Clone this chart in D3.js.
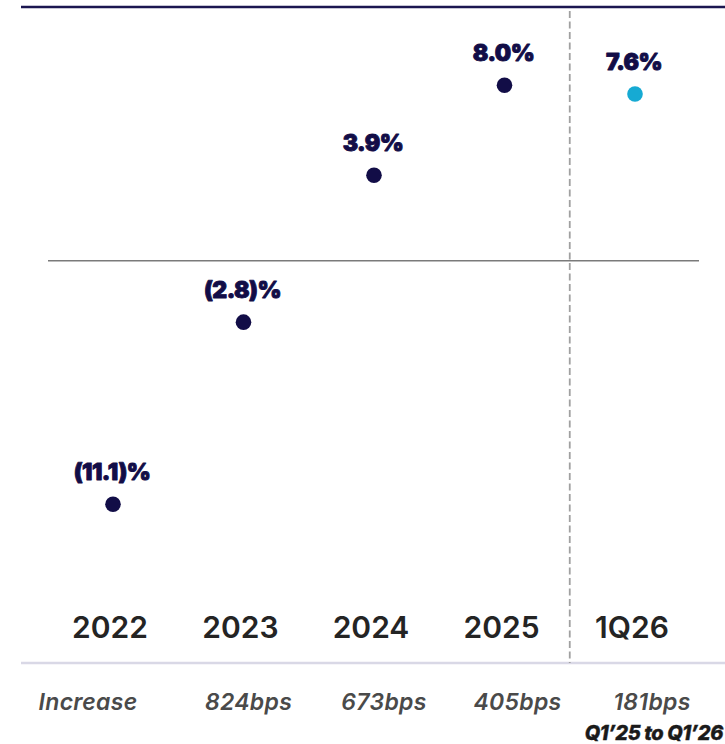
<!DOCTYPE html>
<html>
<head>
<meta charset="utf-8">
<script src="https://cdn.jsdelivr.net/npm/d3@7"></script>
<style>
  html, body { margin: 0; padding: 0; background: #ffffff; }
  svg { display: block; }
</style>
</head>
<body>
<svg id="chart" width="725" height="744"></svg>
<script>
// Year-over-year change by period
const categories = ["2022", "2023", "2024", "2025", "1Q26"];
const changes = [-11.1, -2.8, 3.9, 8.0, 7.6];
const valueLabels = ["(11.1)%", "(2.8)%", "3.9%", "8.0%", "7.6%"];
const spreadLabels = ["Increase", "824bps", "673bps", "405bps", "181bps"];
const spreadNote = "Q1\u201925 to Q1\u201926";

const NAVY = "#120d47";
const CYAN = "#16aad3";
const FONT = "Inter, 'Open Sans', 'DejaVu Sans', sans-serif";

const svg = d3.select("#chart");

const x = d3.scalePoint()
  .domain(categories)
  .range([113, 635]);

const y = d3.scaleLinear()
  .domain(d3.extent(changes))
  .range([504.2, 85.3]);

// Top rule
svg.append("line")
  .attr("x1", 21).attr("x2", 725)
  .attr("y1", 7).attr("y2", 7)
  .attr("stroke", "#1b1650").attr("stroke-width", 2.6);

// Zero line
svg.append("line")
  .attr("x1", 48).attr("x2", 699)
  .attr("y1", y(0)).attr("y2", y(0))
  .attr("stroke", "#7a7a7a").attr("stroke-width", 1.6);

// Baseline under the period labels
svg.append("line")
  .attr("x1", 21).attr("x2", 725)
  .attr("y1", 663).attr("y2", 663)
  .attr("stroke", "#d9d8e6").attr("stroke-width", 2.4);

// Divider between annual and quarterly figures
const divX = (x("2025") + x("1Q26")) / 2;
svg.append("line")
  .attr("x1", divX).attr("x2", divX)
  .attr("y1", 11).attr("y2", 663)
  .attr("stroke", "#a0a0a0").attr("stroke-width", 1.8)
  .attr("stroke-dasharray", "7,3.5");

// Points
svg.selectAll("circle.pt")
  .data(categories)
  .join("circle")
  .attr("class", "pt")
  .attr("cx", d => x(d))
  .attr("cy", (d, i) => y(changes[i]))
  .attr("r", 7.8)
  .attr("fill", (d, i) => i === categories.length - 1 ? CYAN : NAVY);

// Value labels above points (stroked for a heavier face)
svg.selectAll("text.val")
  .data(categories)
  .join("text")
  .attr("class", "val")
  .attr("x", d => x(d) - 1)
  .attr("y", (d, i) => y(changes[i]) - 24)
  .attr("text-anchor", "middle")
  .attr("font-family", FONT)
  .attr("font-weight", 900)
  .attr("font-size", 23)
  .attr("letter-spacing", "-0.5")
  .attr("fill", NAVY)
  .attr("stroke", NAVY)
  .attr("stroke-width", 0.9)
  .attr("stroke-linejoin", "round")
  .text((d, i) => valueLabels[i]);

// Period labels
svg.selectAll("text.cat")
  .data(categories)
  .join("text")
  .attr("class", "cat")
  .attr("x", d => x(d) - 3)
  .attr("y", 637.5)
  .attr("text-anchor", "middle")
  .attr("font-family", FONT)
  .attr("font-weight", 600)
  .attr("font-size", 30)
  .attr("fill", "#242424")
  .text(d => d);

// Spread labels below the baseline
const spreadShift = [-25, 5, 10, 13, 17];
svg.selectAll("text.spread")
  .data(categories)
  .join("text")
  .attr("class", "spread")
  .attr("x", (d, i) => x(d) + spreadShift[i])
  .attr("y", 710)
  .attr("text-anchor", "middle")
  .attr("font-family", FONT)
  .attr("font-style", "italic")
  .attr("font-weight", 600)
  .attr("font-size", 23)
  .attr("letter-spacing", "0.3")
  .attr("fill", "#4a4a4a")
  .text((d, i) => spreadLabels[i]);

svg.append("text")
  .attr("x", 723)
  .attr("y", 740)
  .attr("text-anchor", "end")
  .attr("font-family", FONT)
  .attr("font-style", "italic")
  .attr("font-weight", 800)
  .attr("font-size", 20)
  .attr("letter-spacing", "-0.4")
  .attr("fill", "#1a1a1a")
  .attr("stroke", "#1a1a1a")
  .attr("stroke-width", 0.4)
  .text(spreadNote);
</script>
</body>
</html>
